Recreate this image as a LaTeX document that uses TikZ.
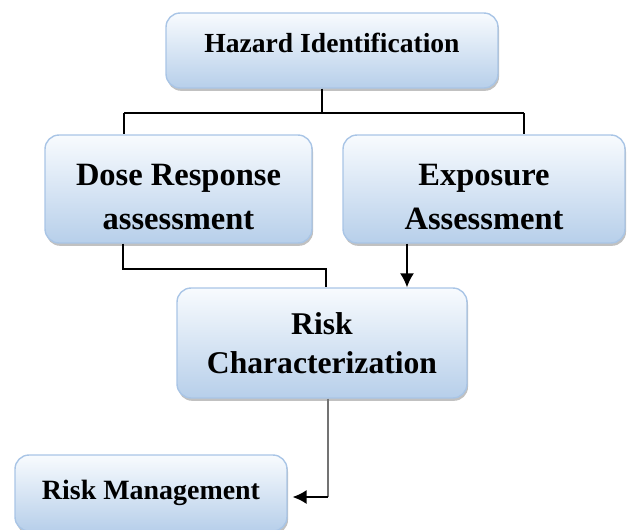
\documentclass[tikz,border=0pt]{standalone}
\usepackage{fontspec}
\setmainfont{Liberation Serif}
\usetikzlibrary{shadows,arrows.meta}
\definecolor{boxtop}{HTML}{F8FBFE}
\definecolor{boxbot}{HTML}{B7CFEA}
\definecolor{boxline}{HTML}{A9C5E6}
% move the text of a box up or down, keeping its size
\newcommand{\shiftlines}[2]{\raisebox{#1}[\height][\depth]{\begin{tabular}{@{}c@{}}#2\end{tabular}}}
\begin{document}
\begin{tikzpicture}[x=0.02cm,y=-0.02cm]
	% styles for the boxes and lines
	\tikzset{stagebox/.style={draw=boxline,line width=0.8pt,rounded corners=0.28cm,
			top color=boxtop,bottom color=boxbot,inner sep=0pt,align=center,
			font=\bfseries,drop shadow={shadow xshift=0.6pt,shadow yshift=-1.6pt,opacity=0.35,fill=black!70}},
		link/.style={line width=0.9pt,black},
		arrowlink/.style={link,-{Latex[length=8pt,width=8pt]}}}
	\useasboundingbox (0,0) rectangle (633,529);
	
	% draw the boxes
	\node[stagebox,minimum width=6.64cm,minimum height=1.5cm,font=\bfseries\fontsize{15.7}{19}\selectfont] (hazard) at (332,50.5) {\shiftlines{2.8pt}{Hazard Identification}};
	\node[stagebox,minimum width=5.34cm,minimum height=2.16cm,font=\bfseries\fontsize{18.5}{25}\selectfont] (dose) at (178.5,189) {\shiftlines{-5.5pt}{Dose Response\\assessment}};
	\node[stagebox,minimum width=5.64cm,minimum height=2.16cm,font=\bfseries\fontsize{18.5}{25}\selectfont] (expo) at (484,189) {\shiftlines{-5.5pt}{Exposure\\Assessment}};
	\node[stagebox,minimum width=5.8cm,minimum height=2.2cm,font=\bfseries\fontsize{18}{22}\selectfont] (char) at (322,343) {Risk\\Characterization};
	\node[stagebox,minimum width=5.44cm,minimum height=1.52cm,font=\bfseries\fontsize{15.9}{19}\selectfont] (mgmt) at (151,493) {Risk Management};
	
	% points where the lines bend
	\coordinate (split) at (322,113);
	\coordinate (splitL) at (124,113);
	\coordinate (splitR) at (524,113);
	\coordinate (doseA) at (123,269);
	\coordinate (doseB) at (326,269);
	\coordinate (expoA) at (407,243);
	\coordinate (mgmtA) at (328,497);
	
	% hazard down to the two assessments
	\draw[link] (hazard.south -| split) -- (split);
	\draw[link] (splitL) -- (splitR);
	\draw[link] (splitL) -- (splitL |- dose.north);
	\draw[link] (splitR) -- (splitR |- expo.north);
	
	% assessments into characterization
	\draw[link] (doseA |- dose.south) -- (doseA) -- (doseB) -- (doseB |- char.north);
	\draw[arrowlink] (expoA |- expo.south) -- (expoA |- char.north);
	
	% characterization to management
	\draw[link,black!55] (mgmtA |- char.south) -- (mgmtA);
	\draw[arrowlink,shorten >=2.8pt] (mgmtA) -- (mgmtA -| mgmt.east);
\end{tikzpicture}
\end{document}
